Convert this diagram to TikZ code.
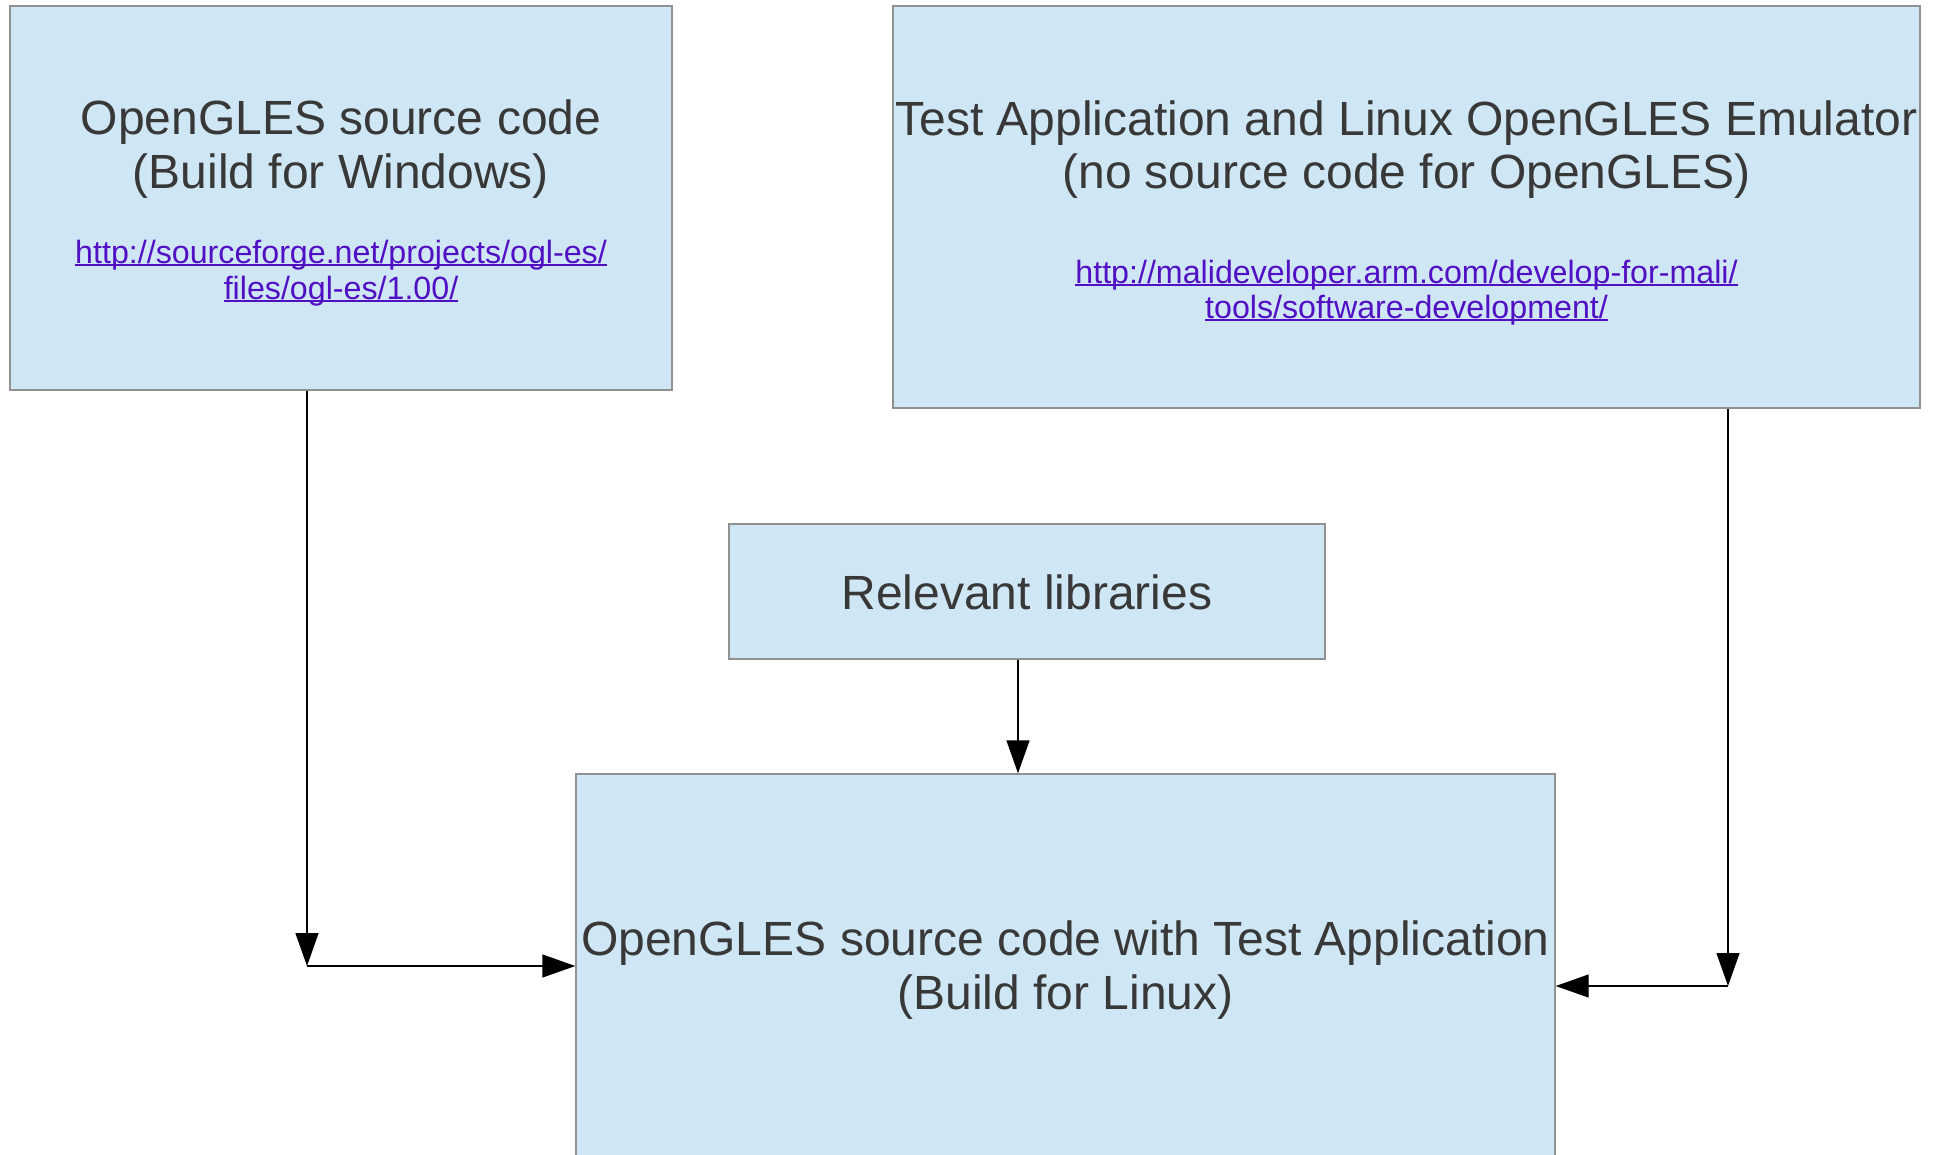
\documentclass[tikz,border=0pt]{standalone}
\usepackage{fontspec}
\setmainfont{Liberation Sans}
\usetikzlibrary{arrows.meta}

\definecolor{boxfill}{RGB}{207,230,244}
\definecolor{boxline}{RGB}{145,145,145}
\definecolor{txt}{RGB}{56,56,56}
\definecolor{link}{RGB}{82,16,196}

% underlined hyperlink-style text
\newcommand\linkline[1]{\setbox0\hbox{#1}\rlap{\rule[-3pt]{\wd0}{1.6pt}}\box0}

\tikzset{
  box/.style={draw=boxline, fill=boxfill, line width=1.4pt, inner sep=0pt},
  title/.style={anchor=base, inner sep=0pt, text=txt, font=\fontsize{48}{54}\selectfont},
  url/.style={anchor=base, inner sep=0pt, text=link, font=\fontsize{32.2}{36}\selectfont},
  conn/.style={draw=black, line width=1.4pt, -{Triangle[length=33pt,width=23pt]}},
}

\begin{document}
\begin{tikzpicture}[x=1pt, y=-1pt]
  \path[use as bounding box, fill=white] (0,0) rectangle (1935,1154);
  \clip (0,0) rectangle (1935,1154);

  % boxes
  \node[box, minimum width=662pt, minimum height=384pt] (A) at (341,198) {};
  \node[box, minimum width=1027pt, minimum height=402pt] (B) at (1406.5,207) {};
  \node[box, minimum width=596pt, minimum height=135pt] (C) at (1027,591.5) {};
  \node[box, minimum width=979pt, minimum height=406pt] (D) at (1065.5,977) {};

  % connectors
  \coordinate (lc) at (307,966);
  \coordinate (rc) at (1728,986);
  \coordinate (mc) at (1018,0);
  \draw[conn] (lc |- A.south) -- (lc);
  \draw[conn] (lc) -- (lc -| D.west);
  \draw[conn] (rc |- B.south) -- (rc);
  \draw[conn] (rc) -- (rc -| D.east);
  \draw[conn] (mc |- C.south) -- (mc |- D.north);

  % texts
  \node[title] (A1) at (341,134) {OpenGLES source code};
  \node[title] (A2) at (341,188) {(Build for Windows)};
  \node[url] (Au1) at (341,263) {\linkline{http://sourceforge.net/projects/ogl-es/}};
  \node[url] (Au2) at (341,299) {\linkline{files/ogl-es/1.00/}};

  \node[title] (B1) at (1406.5,135) {Test Application and Linux OpenGLES Emulator};
  \node[title] (B2) at (1406.5,188) {(no source code for OpenGLES)};
  \node[url] (Bu1) at (1406.5,283) {\linkline{http://malideveloper.arm.com/develop-for-mali/}};
  \node[url] (Bu2) at (1406.5,318) {\linkline{tools/software-development/}};

  \node[title] (C1) at (1027,609) {Relevant libraries};

  \node[title] (D1) at (1065.5,955) {OpenGLES source code with Test Application};
  \node[title] (D2) at (1065.5,1009) {(Build for Linux)};
\end{tikzpicture}
\end{document}
